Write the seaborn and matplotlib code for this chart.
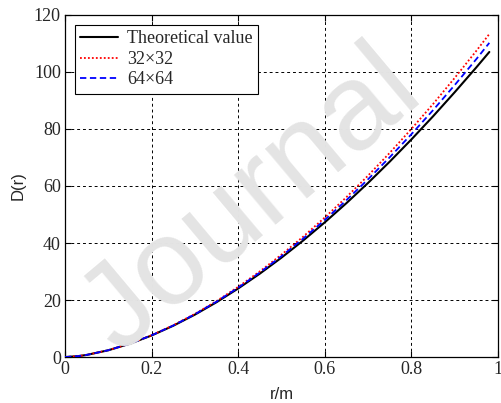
import numpy as np
import pandas as pd
import matplotlib
matplotlib.use('Agg')
from matplotlib import pyplot as plt
import seaborn as sns

# values
r = [0.0, 0.03, 0.05, 0.1, 0.15, 0.2, 0.25, 0.3, 0.35, 0.4, 0.45, 0.5,
     0.55, 0.6, 0.65, 0.7, 0.75, 0.8, 0.85, 0.9, 0.95, 0.98]
d_theory = [0.0, 0.32, 0.75, 2.38, 4.69, 7.57, 10.98, 14.88, 19.24, 24.05, 29.26, 34.87,
            40.87, 47.25, 53.99, 61.08, 68.54, 76.32, 84.43, 92.88, 101.6, 107.0]
d_32 = [0.0, 0.32, 0.75, 2.40, 4.75, 7.66, 11.15, 15.15, 19.64, 24.63, 30.05, 35.92,
        42.22, 48.95, 56.10, 63.65, 71.62, 80.0, 88.73, 97.9, 107.4, 113.3]
d_64 = [0.0, 0.32, 0.75, 2.39, 4.71, 7.62, 11.06, 15.01, 19.44, 24.34, 29.65, 35.39,
        41.55, 48.10, 55.04, 62.36, 70.08, 78.15, 86.58, 95.39, 104.5, 110.2]

sns.set_style('white')
plt.rcParams['font.family'] = ['Liberation Serif', 'DejaVu Serif']

fig = plt.figure(figsize=(5.02, 4.03), dpi=100)
ax = fig.add_axes([0.1295, 0.114, 0.8625, 0.849])

# light watermark across the plot
fig.text(0.5, 0.5, 'Journal', fontsize=88,
         family=['Liberation Sans', 'DejaVu Sans'], color='#e4e4e4',
         rotation=40, ha='center', va='center', zorder=0.3)
ax.patch.set_alpha(0)

sns.lineplot(x=r, y=d_theory, ax=ax, color='black', lw=1.5, label='Theoretical value', zorder=3)
sns.lineplot(x=r, y=d_32, ax=ax, color='red', lw=1.3, linestyle=(0, (1, 1.2)), label='32×32', zorder=3)
sns.lineplot(x=r, y=d_64, ax=ax, color='blue', lw=1.3, linestyle=(0, (3.5, 2)), label='64×64', zorder=3)

ax.set_xlim(0, 1)
ax.set_ylim(0, 120)
ax.set_xticks([0, 0.2, 0.4, 0.6, 0.8, 1])
ax.set_xticklabels(['0', '0.2', '0.4', '0.6', '0.8', '1'])
ax.set_yticks([0, 20, 40, 60, 80, 100, 120])
ax.grid(True, color='black', linestyle=(0, (3, 3)), lw=0.7)
for s in ax.spines.values():
    s.set_color('black')
    s.set_linewidth(0.9)
ax.tick_params(direction='in', length=4, width=0.8, labelsize=13, color='black',
               top=True, right=True, bottom=True, left=True, pad=3)

ax.set_xlabel('r/m', family=['Liberation Sans', 'DejaVu Sans'], fontsize=12, labelpad=6)
ax.set_ylabel('D(r)', family=['Liberation Sans', 'DejaVu Sans'], fontsize=12, labelpad=6)

leg = ax.legend(loc='upper left', fontsize=13, frameon=True, fancybox=False,
                edgecolor='black', framealpha=1, handlelength=2.1, borderaxespad=0.55,
                labelspacing=0.2, borderpad=0.3, handletextpad=0.5)
leg.get_frame().set_linewidth(0.8)

plt.savefig('out.png', dpi=100)
